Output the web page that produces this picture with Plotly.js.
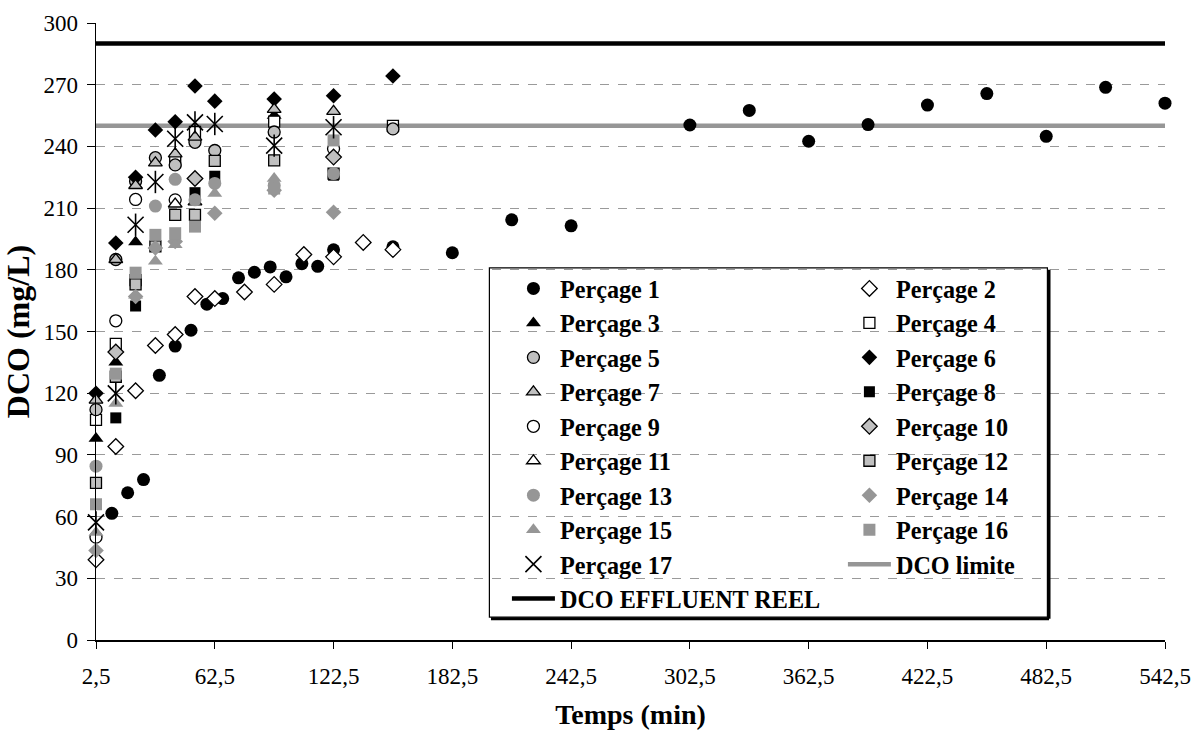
<!DOCTYPE html>
<html><head><meta charset="utf-8">
<script src="https://cdn.plot.ly/plotly-3.0.1.min.js"></script>
<style>html,body{margin:0;padding:0;background:#fff}</style>
</head><body><div id="chart" style="width:1200px;height:731px"></div>
<script>
// ---- data ----
const p1X = [10.5,18.5,26.5,34.5,42.5,50.5,58.5,66.5,74.5,82.5,90.5,98.5,106.5,114.5,122.5,152.5,182.5,212.5,242.5,302.5,332.5,362.5,392.5,422.5,452.5,482.5,512.5,542.5];
const p1Y = [61.6,71.6,78.0,128.7,142.9,150.6,163.3,166.0,176.1,178.8,181.4,176.6,183.0,181.7,189.7,191.2,188.3,204.3,201.4,250.4,257.5,242.5,250.6,260.1,265.7,244.9,268.7,261.0];
const p2X = [2.5,12.5,22.5,32.5,42.5,52.5,62.5,77.5,92.5,107.5,122.5,137.5,152.5];
const p2Y = [39,94.1,121.2,143.2,148.5,167,166,169.2,172.9,187.4,186.3,193.3,189.8];
const tX = [2.5,12.5,22.5,32.5,42.5,52.5,62.5,92.5,122.5,152.5];
const p3Y  = [98,135,193.5,null,null,null,null,255,null,null];
const p4Y  = [107,144,175,null,233,247,null,252,null,250];
const p5Y  = [112,185,223,234.5,231,242,238,247,null,248.5];
const p6Y  = [120,193,225,248,252,269.4,262,263,264.6,274.2];
const p7Y  = [116.6,185,221,232,236.4,244.5,null,258,257,null];
const p8Y  = [null,108,162.4,null,null,217.5,225.5,null,226,null];
const p9Y  = [50,155.2,214.2,null,214,null,null,null,238.9,null];
const p10Y = [null,140,null,null,null,224.4,null,null,234.8,null];
const p11Y = [null,null,null,null,212,213,null,null,null,null];
const p12Y = [76.4,128,172.9,191.4,206.7,206.7,233,233.2,226.8,null];
const p13Y = [84.5,null,null,211,224,214,222,221,226.8,null];
const p14Y = [43.5,null,167,190.6,193.8,null,207.5,218.7,208,null];
const p15Y = [52.3,115,167.6,184.1,192.2,null,217.1,224.4,null,null];
const p16Y = [66,129.5,178.6,197,197.8,201,null,219.5,242.9,null];
const p17Y = [57.2,119.9,201.9,222.7,243.7,251.7,250.9,240.4,249.3,null];
const lineX = [2.5,542.5];
const limiteY = [250,250];
const reelY = [290,290];
const names = ['Perçage 1','Perçage 2','Perçage 3','Perçage 4','Perçage 5','Perçage 6','Perçage 7','Perçage 8','Perçage 9','Perçage 10','Perçage 11','Perçage 12','Perçage 13','Perçage 14','Perçage 15','Perçage 16','Perçage 17'];
const xTicks = [2.5,62.5,122.5,182.5,242.5,302.5,362.5,422.5,482.5,542.5];

// ---- styles ----
const LG = '#c0c0c0', MG = '#969696', K = '#000000';
function mk(symbol, color, lineColor, lineW, size){
  return {symbol:symbol, color:color, size:size, line:{color:lineColor, width:lineW}};
}
const styles = [
  mk('circle', K, K, 0, 13),
  mk('diamond', '#fff', K, 1.3, 12),
  mk('triangle-up', K, K, 0, 13),
  mk('square', '#fff', K, 1.3, 11),
  mk('circle', LG, K, 1.3, 12),
  mk('diamond', K, K, 0, 12),
  mk('triangle-up', LG, K, 1.3, 12),
  mk('square', K, K, 0, 11),
  mk('circle', '#fff', K, 1.3, 12),
  mk('diamond', LG, K, 1.3, 12),
  mk('triangle-up', '#fff', K, 1.3, 12),
  mk('square', LG, K, 1.3, 11),
  mk('circle', MG, MG, 0, 13),
  mk('diamond', MG, MG, 0, 12),
  mk('triangle-up', MG, MG, 0, 13),
  mk('square', MG, MG, 0, 12),
  mk('x-thin-open', K, K, 1.6, 16)
];
const ys = [p1Y,p2Y,p3Y,p4Y,p5Y,p6Y,p7Y,p8Y,p9Y,p10Y,p11Y,p12Y,p13Y,p14Y,p15Y,p16Y,p17Y];

const data = [];
data.push({x:lineX, y:limiteY, mode:'lines', name:'DCO limite', line:{color:MG, width:4.5}, legend:'legend2', legendrank:2000, cliponaxis:false});
data.push({x:lineX, y:reelY, mode:'lines', name:'DCO EFFLUENT REEL', line:{color:K, width:4.5}, legend:'legend', legendrank:2000, cliponaxis:false});
for(let i=0;i<17;i++){
  const xs = i===0 ? p1X : (i===1 ? p2X : tX);
  data.push({x:xs, y:ys[i], mode:'markers', name:names[i], marker:styles[i],
    legend: (i%2===0) ? 'legend' : 'legend2', legendrank:1000+i, cliponaxis:false});
}
// vertical stroke of the Perçage 17 star marker
data.push({x:tX, y:p17Y, mode:'markers', name:'Perçage 17', showlegend:false,
  marker:{symbol:'line-ns-open', size:16, color:K, line:{color:K, width:1.6}}, cliponaxis:false});

const F = 'Liberation Serif, Times New Roman, serif';
const legendCommon = {
  font:{family:F, size:24.2, color:'#000', weight:'bold'},
  bgcolor:'rgba(255,255,255,0)', borderwidth:0, orientation:'v', itemwidth:43,
  xanchor:'left', yanchor:'top', itemclick:false, itemdoubleclick:false, traceorder:'normal'
};

const layout = {
  width:1200, height:731,
  margin:{l:95.5, r:35.3, t:22.5, b:90.5},
  paper_bgcolor:'#fff', plot_bgcolor:'#fff',
  separators:', ',
  font:{family:F, color:'#000'},
  showlegend:true,
  xaxis:{
    range:[2.5,542.5], tickvals:xTicks, tickformat:'.1f',
    ticks:'outside', ticklen:7, tickcolor:'#000', tickwidth:1,
    showline:true, linecolor:'#000', linewidth:1.5, showgrid:false, zeroline:false,
    tickfont:{family:F, size:23, color:'#000'}, ticklabelstandoff:8,
    title:{text:'<b>Temps (min)</b>', font:{family:F, size:28, color:'#000'}, standoff:16},
    automargin:false
  },
  yaxis:{
    range:[0,300], dtick:30, tick0:0,
    ticks:'outside', ticklen:8, tickcolor:'#000', tickwidth:1,
    showline:true, linecolor:'#000', linewidth:1.5,
    showgrid:true, gridcolor:'#9a9a9a', griddash:'dash', gridwidth:1, zeroline:false,
    tickfont:{family:F, size:23, color:'#000'}, ticklabelstandoff:4,
    title:{text:'<b>DCO (mg/L)</b>', font:{family:F, size:32, color:'#000'}, standoff:6},
    automargin:false
  },
  legend: Object.assign({}, legendCommon, {x:0.3844, y:0.6058}),
  legend2: Object.assign({}, legendCommon, {x:0.6987, y:0.6058}),
  shapes:[
    {type:'rect', xref:'paper', yref:'paper', x0:0.368, x1:0.890, y0:0.037, y1:0.603,
     line:{color:'#000', width:1.2}, fillcolor:'rgba(0,0,0,0)', layer:'above'},
    {type:'line', xref:'paper', yref:'paper', x0:0.3695, x1:0.8915, y0:0.0345, y1:0.0345,
     line:{color:'#000', width:3}, layer:'above'},
    {type:'line', xref:'paper', yref:'paper', x0:0.8915, x1:0.8915, y0:0.0345, y1:0.600,
     line:{color:'#000', width:3}, layer:'above'}
  ]
};

Plotly.newPlot('chart', data, layout, {displayModeBar:false, staticPlot:true});
</script>
</body></html>
